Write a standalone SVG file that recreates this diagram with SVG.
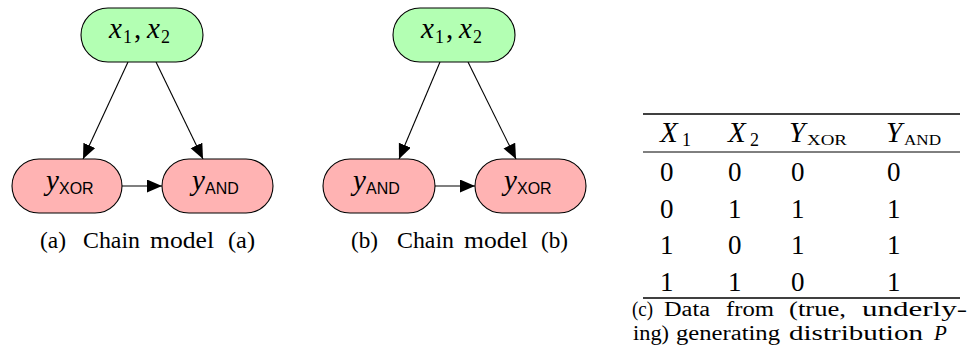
<svg xmlns="http://www.w3.org/2000/svg" width="970" height="352" viewBox="0 0 970 352">
<defs>
<style>
.nodeG{fill:#b3ffb3;stroke:#000;stroke-width:1.1}
.nodeR{fill:#ffb3b3;stroke:#000;stroke-width:1.1}
.mi{font-family:"Liberation Serif",serif;font-style:italic;fill:#000}
.rm{font-family:"Liberation Serif",serif;fill:#000}
.cap{font-family:"Liberation Serif",serif;fill:#000;font-size:23px}
.sf{font-family:"Liberation Sans",sans-serif;fill:#000;font-size:16px}
.edge{stroke:#000;stroke-width:1.1;fill:none;marker-end:url(#ah)}
.rule{stroke:#000}
</style>
<marker id="ah" markerUnits="userSpaceOnUse" markerWidth="16" markerHeight="14" refX="15" refY="6.5" orient="auto">
<path d="M0,0 L15,6.5 L0,13 z" fill="#000"/>
</marker>
</defs>
<rect width="970" height="352" fill="#fff"/>

<g id="connectors">
<line class="edge" x1="128" y1="62" x2="83" y2="159"/>
<line class="edge" x1="156" y1="62" x2="203" y2="159"/>
<line class="edge" x1="122" y1="186" x2="162" y2="186"/>
<line class="edge" x1="440" y1="62" x2="399" y2="159"/>
<line class="edge" x1="468" y1="62" x2="516" y2="159"/>
<line class="edge" x1="435" y1="186" x2="475" y2="186"/>
</g>

<g id="a-x">
<rect class="nodeG" x="81" y="8" width="122" height="54" rx="27"/>
<text class="mi" font-size="29" x="109" y="38">x</text>
<text class="rm" font-size="18" x="123" y="43">1</text>
<text class="rm" font-size="29" x="134" y="38">,</text>
<text class="mi" font-size="29" x="147" y="38">x</text>
<text class="rm" font-size="18" x="161" y="43">2</text>
</g>
<g id="a-yxor">
<rect class="nodeR" x="12" y="159" width="110" height="54" rx="27"/>
<text class="mi" font-size="29" x="46" y="190">y</text>
<text class="sf" x="59" y="194">XOR</text>
</g>
<g id="a-yand">
<rect class="nodeR" x="162" y="159" width="111" height="54" rx="27"/>
<text class="mi" font-size="29" x="192" y="190">y</text>
<text class="sf" x="205" y="194">AND</text>
</g>
<g id="caption-a" class="cap">
<text x="40" y="248" textLength="26" lengthAdjust="spacingAndGlyphs">(a)</text>
<text x="83" y="248" textLength="57" lengthAdjust="spacingAndGlyphs">Chain</text>
<text x="150" y="248" textLength="64" lengthAdjust="spacingAndGlyphs">model</text>
<text x="228" y="248" textLength="27" lengthAdjust="spacingAndGlyphs">(a)</text>
</g>

<g id="b-x">
<rect class="nodeG" x="393" y="8" width="122" height="54" rx="27"/>
<text class="mi" font-size="29" x="421" y="38">x</text>
<text class="rm" font-size="18" x="435" y="43">1</text>
<text class="rm" font-size="29" x="446" y="38">,</text>
<text class="mi" font-size="29" x="459" y="38">x</text>
<text class="rm" font-size="18" x="473" y="43">2</text>
</g>
<g id="b-yand">
<rect class="nodeR" x="323" y="159" width="112" height="54" rx="27"/>
<text class="mi" font-size="29" x="353" y="190">y</text>
<text class="sf" x="366" y="194">AND</text>
</g>
<g id="b-yxor">
<rect class="nodeR" x="475" y="159" width="111" height="54" rx="27"/>
<text class="mi" font-size="29" x="504" y="190">y</text>
<text class="sf" x="517" y="194">XOR</text>
</g>
<g id="caption-b" class="cap">
<text x="351" y="248" textLength="27" lengthAdjust="spacingAndGlyphs">(b)</text>
<text x="397" y="248" textLength="57" lengthAdjust="spacingAndGlyphs">Chain</text>
<text x="464" y="248" textLength="64" lengthAdjust="spacingAndGlyphs">model</text>
<text x="541" y="248" textLength="27" lengthAdjust="spacingAndGlyphs">(b)</text>
</g>

<g id="table">
<line class="rule" x1="643" y1="114" x2="960" y2="114" stroke-width="1.6"/>
<line class="rule" x1="643" y1="152" x2="960" y2="152" stroke-width="1"/>
<line class="rule" x1="643" y1="298" x2="960" y2="298" stroke-width="1.6"/>
<text class="mi" font-size="29" x="660" y="142">X</text>
<text class="rm" font-size="18" x="682" y="146">1</text>
<text class="mi" font-size="29" x="728" y="142">X</text>
<text class="rm" font-size="18" x="750" y="146">2</text>
<text class="mi" font-size="29" x="789" y="142">Y</text>
<text class="rm" font-size="15" x="807" y="145" textLength="40" lengthAdjust="spacingAndGlyphs">XOR</text>
<text class="mi" font-size="29" x="886" y="142">Y</text>
<text class="rm" font-size="15" x="904" y="145" textLength="37" lengthAdjust="spacingAndGlyphs">AND</text>
<g class="rm" font-size="27">
<text x="660" y="181">0</text><text x="728" y="181">0</text><text x="791" y="181">0</text><text x="887" y="181">0</text>
<text x="660" y="218">0</text><text x="728" y="218">1</text><text x="791" y="218">1</text><text x="887" y="218">1</text>
<text x="660" y="254">1</text><text x="728" y="254">0</text><text x="791" y="254">1</text><text x="887" y="254">1</text>
<text x="660" y="291">1</text><text x="728" y="291">1</text><text x="791" y="291">0</text><text x="887" y="291">1</text>
</g>
<g class="rm" font-size="20">
<text x="632" y="316" textLength="21" lengthAdjust="spacingAndGlyphs">(c)</text>
<text x="664" y="316" textLength="46" lengthAdjust="spacingAndGlyphs">Data</text>
<text x="726" y="316" textLength="48" lengthAdjust="spacingAndGlyphs">from</text>
<text x="789" y="316" textLength="57" lengthAdjust="spacingAndGlyphs">(true,</text>
<text x="862" y="316" textLength="105" lengthAdjust="spacingAndGlyphs">underly-</text>
<text x="633" y="340" textLength="36" lengthAdjust="spacingAndGlyphs">ing)</text>
<text x="676" y="340" textLength="104" lengthAdjust="spacingAndGlyphs">generating</text>
<text x="789" y="340" textLength="134" lengthAdjust="spacingAndGlyphs">distribution</text>
</g>
<text class="mi" font-size="21" x="934" y="340">P</text>
</g>
</svg>
